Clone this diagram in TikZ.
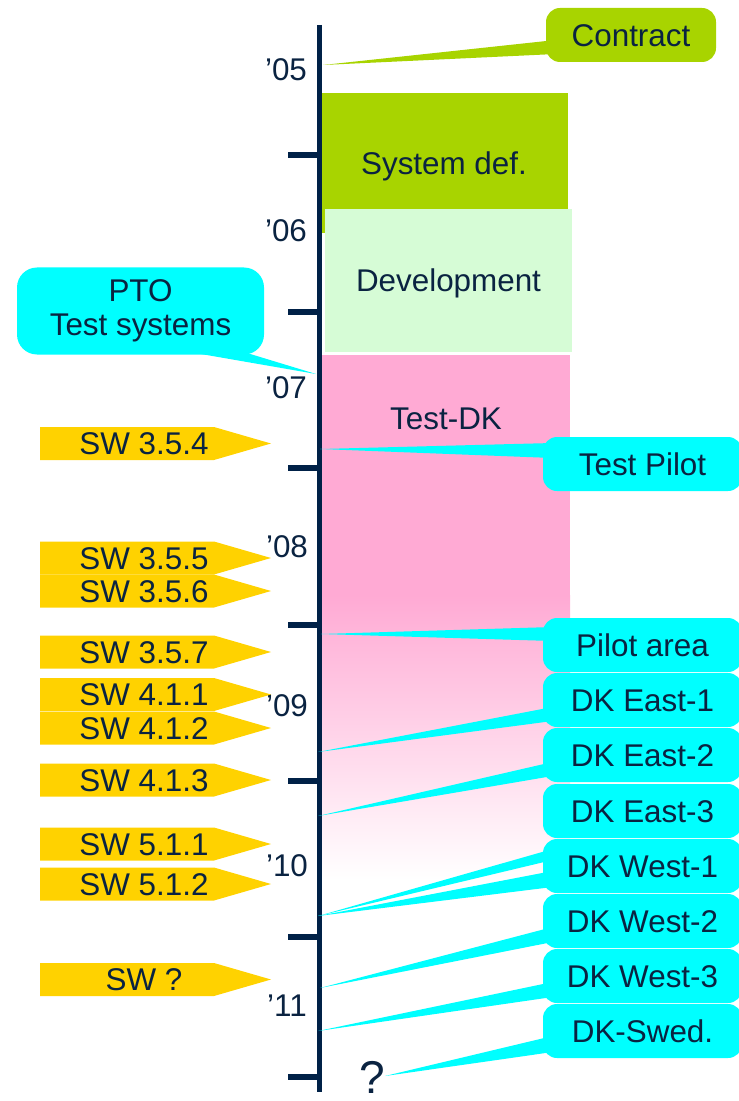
\documentclass[tikz,border=0pt]{standalone}
\usepackage{fontspec}
\setmainfont{Liberation Sans}
\usetikzlibrary{calc}
\definecolor{ink}{RGB}{10,35,65}
\definecolor{axisblue}{RGB}{0,33,71}
\definecolor{limegreen}{RGB}{168,212,0}
\definecolor{mintgreen}{RGB}{214,252,214}
\definecolor{rosepink}{RGB}{255,170,212}
\definecolor{calloutcyan}{RGB}{0,255,255}
\definecolor{swyellow}{RGB}{255,210,0}

% one software release tag: name, vertical centre, label
\newcommand\swtag[3]{%
  \fill[swyellow] (40,#2-16.5) -- (214,#2-16.5) -- (271,#2) -- (214,#2+16.5) -- (40,#2+16.5) -- cycle;
  \node[lbl] (#1) at (144,#2) {#3};}

\begin{document}
\begin{tikzpicture}[x=0.5pt,y=-0.5pt,
  every node/.style={font=\fontsize{15.7pt}{17pt}\selectfont, text=ink, inner sep=0pt},
  lbl/.style={text height=11.3pt, text depth=0pt},
  phase/.style={lbl, minimum width=124pt, minimum height=70pt},
  callout/.style={lbl, fill=calloutcyan, rounded corners=7pt, minimum width=99.5pt, minimum height=27pt},
  wedge/.style={fill=calloutcyan},
  axisline/.style={draw=axisblue, line width=2.5pt},
  tick/.style={draw=axisblue, line width=2.7pt},
  year/.style={lbl},
]
\useasboundingbox (0,0) rectangle (738,1101);

% project phases
\node[phase, fill=limegreen] (sysdef) at (444,163) {System def.};
\node[phase, fill=mintgreen, minimum width=123.5pt, minimum height=71.5pt] (devel) at (448.5,280.5) {Development};
\fill[rosepink] (322,355) rectangle (570,596);
\shade[top color=rosepink, bottom color=white] (322,595) rectangle (570,880);
\node[lbl] (testdk) at (446,418) {Test-DK};

% time axis
\draw[axisline] (319,25) -- (319,1092);
\foreach \t in {155,312,468,625,781,937,1077}
  \draw[tick] (288,\t) -- (319,\t);
\node[year] (y05) at (286,69) {’05};
\node[year] (y06) at (286,230) {’06};
\node[year] (y07) at (286,387) {’07};
\node[year] (y08) at (287,546) {’08};
\node[year] (y09) at (287,705) {’09};
\node[year] (y10) at (287,865) {’10};
\node[year] (y11) at (287,1005) {’11};
\node[font=\fontsize{23pt}{25pt}\selectfont, text height=16.5pt, text depth=0pt] (qmark) at (372,1077) {?};

% anchor points on the axis
\coordinate (tContract) at (323,65);
\coordinate (tPTO) at (316,374);
\coordinate (tTP) at (320,449);
\coordinate (tPA) at (321,634);
\coordinate (tE1) at (318,752);
\coordinate (tE2) at (318,816);
\coordinate (tW1) at (318,916);
\coordinate (tW2) at (320,988);
\coordinate (tW3) at (318,1031);
\coordinate (tSW) at (385,1076);

% callouts
\node[callout, fill=limegreen, minimum width=85pt] (contract) at (631,35) {Contract};
\node[lbl, fill=calloutcyan, rounded corners=10pt, minimum width=123.5pt, minimum height=43.5pt,
      align=center, text height=, text depth=] (pto) at (140.5,311) {PTO\\Test systems};
\node[callout] (tp) at (642.5,464) {Test Pilot};
\node[callout] (pa) at (642.5,645) {Pilot area};
\node[callout] (e1) at (642.5,700) {DK East-1};
\node[callout] (e2) at (642.5,755) {DK East-2};
\node[callout] (e3) at (642.5,811) {DK East-3};
\node[callout] (w1) at (642.5,866) {DK West-1};
\node[callout] (w2) at (642.5,921) {DK West-2};
\node[callout] (w3) at (642.5,976) {DK West-3};
\node[callout] (swed) at (642.5,1031) {DK-Swed.};

% callout pointers
\fill[limegreen] (tContract) -- ($(contract.west)+(10,5)$) -- ($(contract.west)+(10,19)$) -- cycle;
\fill[wedge] (tPTO) -- ($(pto.south)+(19.5,-8)$) -- ($(pto.south)+(86.5,-8)$) -- cycle;
\fill[wedge] (tTP) -- ($(tp.west)+(10,-21)$) -- ($(tp.west)+(10,-6)$) -- cycle;
\fill[wedge] (tPA) -- ($(pa.west)+(10,-18)$) -- ($(pa.west)+(10,-4)$) -- cycle;
\fill[wedge] (tE1) -- ($(e1.west)+(10,7)$) -- ($(e1.west)+(10,21)$) -- cycle;
\fill[wedge] (tE2) -- ($(e2.west)+(10,7)$) -- ($(e2.west)+(10,21)$) -- cycle;
\fill[wedge] (tW1) -- ($(e3.west)+(10,38)$) -- ($(e3.west)+(10,49)$) -- cycle;
\fill[wedge] (tW1) -- ($(w1.west)+(10,5)$) -- ($(w1.west)+(10,21)$) -- cycle;
\fill[wedge] (tW2) -- ($(w2.west)+(10,6)$) -- ($(w2.west)+(10,21)$) -- cycle;
\fill[wedge] (tW3) -- ($(w3.west)+(10,6)$) -- ($(w3.west)+(10,21)$) -- cycle;
\fill[wedge] (tSW) -- ($(swed.west)+(10,5)$) -- ($(swed.west)+(10,21)$) -- cycle;

% software releases
\swtag{sw354}{443.5}{SW 3.5.4}
\swtag{sw355}{558}{SW 3.5.5}
\swtag{sw356}{591}{SW 3.5.6}
\swtag{sw357}{652}{SW 3.5.7}
\swtag{sw411}{694.5}{SW 4.1.1}
\swtag{sw412}{728}{SW 4.1.2}
\swtag{sw413}{780}{SW 4.1.3}
\swtag{sw511}{844}{SW 5.1.1}
\swtag{sw512}{884}{SW 5.1.2}
\swtag{swq}{979.5}{SW ?}
\end{tikzpicture}
\end{document}
